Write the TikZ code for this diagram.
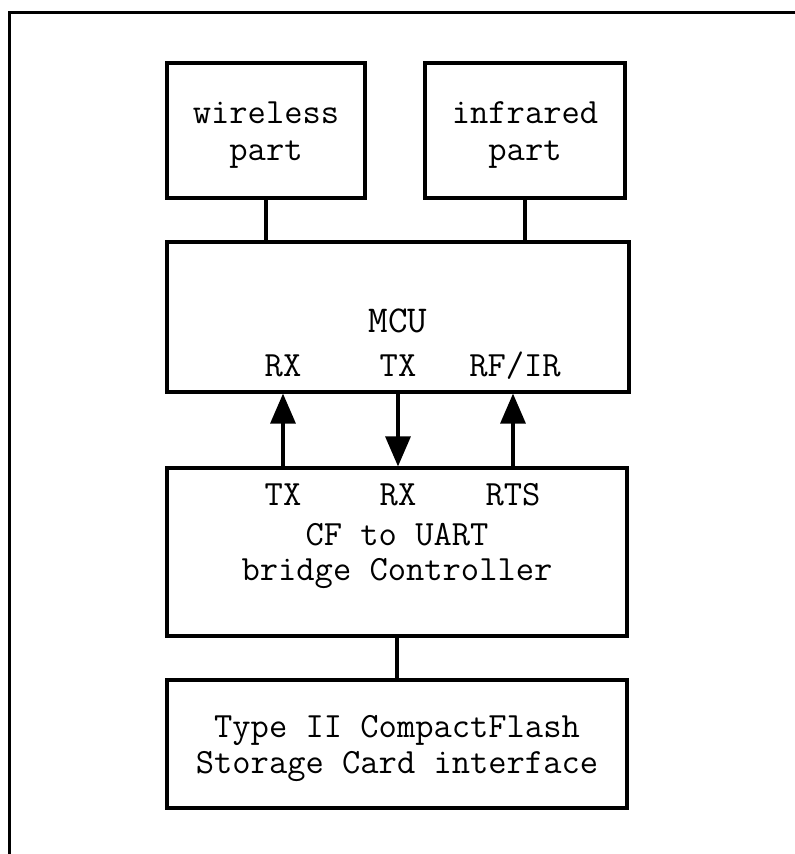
\documentclass[tikz,border=0pt]{standalone}
\usetikzlibrary{arrows.meta}
\begin{document}
\begin{tikzpicture}[x=1pt,y=-1pt,
  box/.style={draw,line width=3.2pt,rectangle,inner sep=0pt},
  lbl/.style={inner sep=0pt,anchor=base,font=\fontsize{35.5}{37}\selectfont\ttfamily},
  wire/.style={line width=3.2pt},
  sig/.style={line width=3.2pt,-{Triangle[width=25pt,length=30pt]}}]
\useasboundingbox (0,0) rectangle (795,854);
% outer frame (top and left edges)
\draw[line width=3.2pt] (9.5,854) -- (9.5,12.5) -- (795,12.5);
% blocks
\node[box,minimum width=198pt,minimum height=135pt] (wl) at (266,130.5) {};
\node[box,minimum width=200pt,minimum height=135pt] (ir) at (525,130.5) {};
\node[box,minimum width=462pt,minimum height=150pt] (mcu) at (398,317) {};
\node[box,minimum width=460pt,minimum height=168pt] (cf) at (397,552) {};
\node[box,minimum width=460pt,minimum height=128pt] (card) at (397,744) {};
% block texts
\node[lbl] (wl1) at (266,123) {wireless};
\node[lbl] (wl2) at (266,160) {part};
\node[lbl] (ir1) at (525,123) {infrared};
\node[lbl] (ir2) at (525,160) {part};
\node[lbl] (cd1) at (397,737) {Type II CompactFlash};
\node[lbl] (cd2) at (397,773) {Storage Card interface};
% MCU texts
\node[lbl,font=\fontsize{38}{40}\selectfont\ttfamily] (mcut) at (398,332) {MCU};
\node[lbl] (mrx) at (283,376) {RX};
\node[lbl] (mtx) at (398,376) {TX};
\node[lbl] (mrf) at (515,376) {RF/IR};
% bridge texts
\node[lbl] (ctx) at (283,505) {TX};
\node[lbl] (crx) at (398,505) {RX};
\node[lbl] (crts) at (513,505) {RTS};
\node[lbl] (cft1) at (397,545) {CF to UART};
\node[lbl] (cft2) at (397,580) {bridge Controller};
% connections
\draw[wire] (wl.south) -- (mcu.north -| wl.south);
\draw[wire] (ir.south) -- (mcu.north -| ir.south);
\draw[sig] (cf.north -| ctx) -- (mcu.south -| ctx);
\draw[sig] (mcu.south -| crx) -- (cf.north -| crx);
\draw[sig] (cf.north -| crts) -- (mcu.south -| crts);
\draw[wire] (cf.south) -- (card.north);
\end{tikzpicture}
\end{document}
